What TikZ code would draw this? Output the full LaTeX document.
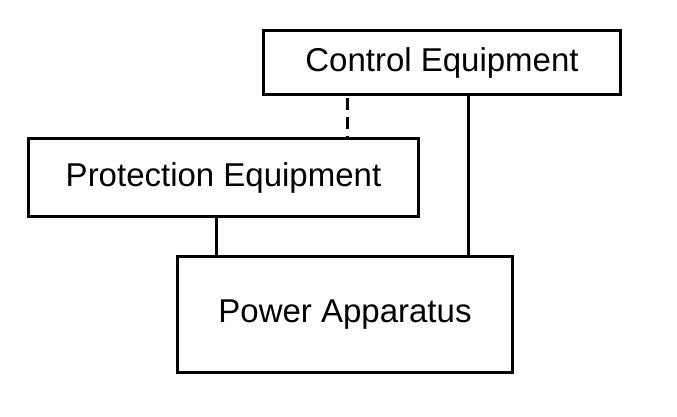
\documentclass[tikz,border=0pt]{standalone}
\usepackage{fontspec}
\setmainfont{Liberation Sans}
\begin{document}
\begin{tikzpicture}[x=1pt,y=-1pt]
	\tikzstyle{every node}=[font=\fontsize{33}{36}\selectfont]
	\tikzstyle{unit}=[draw, line width=3pt, inner sep=0pt, anchor=north west]
	\tikzstyle{link}=[line width=3pt]

	\useasboundingbox (0,0) rectangle (677,416);
	\node[unit, minimum width=357, minimum height=64] (control) at (262,29) {Control Equipment};
	\node[unit, minimum width=390, minimum height=78] (protection) at (27,137) {Protection Equipment};
	\node[unit, minimum width=335, minimum height=116] (power) at (176,255) {Power Apparatus};
	\coordinate (c1) at (347,93);
	\coordinate (c2) at (216,215);
	\coordinate (c3) at (468,93);
	\draw[link, dash pattern=on 12pt off 7pt, dash phase=-5pt] (c1) -- (c1 |- protection.north);
	\draw[link] (c2) -- (c2 |- power.north);
	\draw[link] (c3) -- (c3 |- power.north);
\end{tikzpicture}
\end{document}
